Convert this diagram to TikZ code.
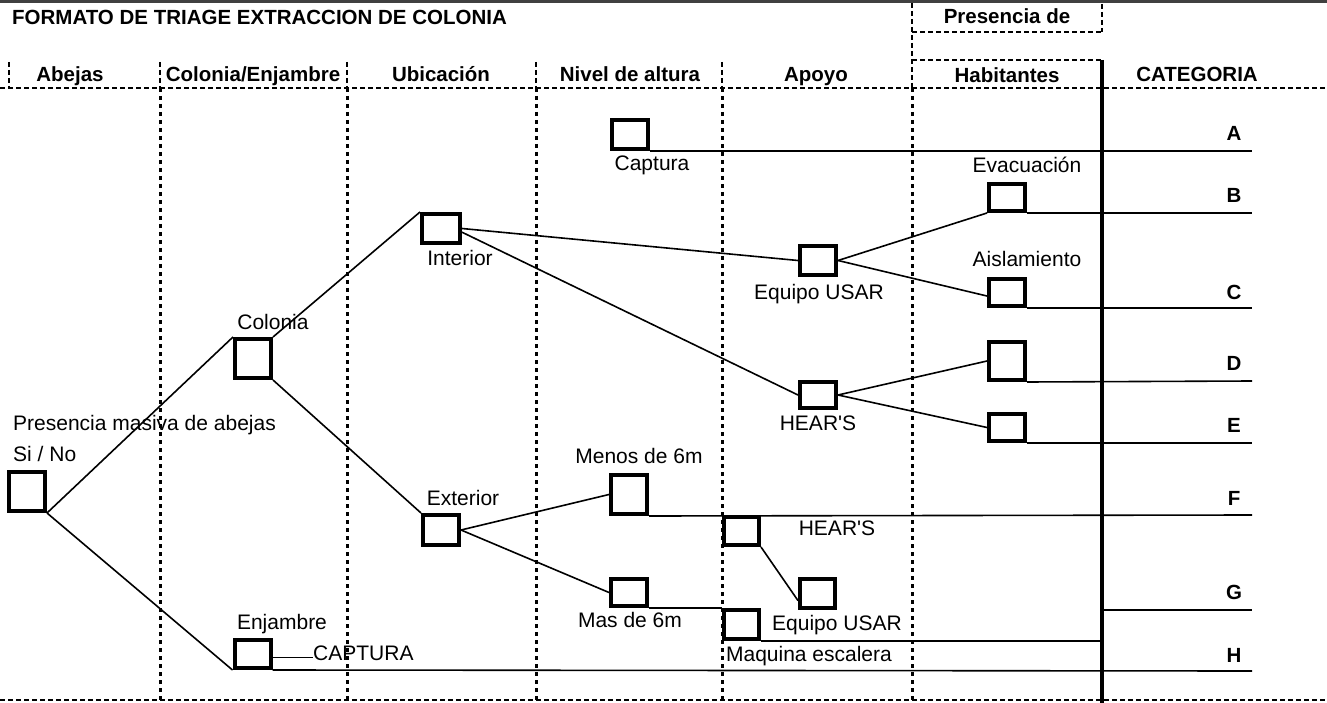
\documentclass[tikz,border=0pt]{standalone}
\usepackage{fontspec}
\setmainfont{Liberation Sans}[Ligatures=TeXOff]
\usetikzlibrary{calc}
\begin{document}
\begin{tikzpicture}[x=1pt,y=-1pt,
  bx/.style={draw, line width=4pt, inner sep=0pt, minimum width=36pt, minimum height=#1},
  bx/.default=29pt,
  ln/.style={line width=1.6pt},
  thick line/.style={line width=4pt},
  hdash/.style={line width=2pt, dash pattern=on 5pt off 3pt},
  vdot/.style={line width=3pt, dash pattern=on 4pt off 4pt},
  txt/.style={inner sep=0pt, font=\fontsize{21}{25}\selectfont, text height=15pt, text depth=0pt},
  hdr/.style={inner sep=0pt, font=\fontsize{20.5}{24}\selectfont\bfseries, text height=14.7pt, text depth=0pt},
  cat/.style={hdr}
]
\useasboundingbox (0,0) rectangle (1327,703);

% frame lines
\coordinate (tl) at (0,1.5);
\coordinate (tr) at (1327,1.5);
\draw[line width=3pt, black!75] (tl) -- (tr);
\coordinate (hl) at (0,88);
\coordinate (hr) at (1327,88);
\draw[hdash] (hl) -- (hr);
\coordinate (bl) at (0,700);
\coordinate (br) at (1327,700);
\draw[hdash, line width=2.5pt] (bl) -- (br);

% Presencia de box
\coordinate (p1) at (912,3);
\coordinate (p2) at (912,88);
\coordinate (p3) at (1102,4);
\coordinate (p4) at (1102,32);
\coordinate (p5) at (912,32);
\coordinate (p6) at (912,60);
\coordinate (p7) at (1102,60);
\draw[hdash] (p1) -- (p2);
\draw[hdash] (p3) -- (p4);
\draw[hdash] (p5) -- (p4);
\draw[hdash] (p6) -- (p7);
\coordinate (tb) at (1102,703);
\draw[thick line] (p7) -- (tb);

% header verticals
\foreach \xx in {9,160,347,536,722} {
  \draw[hdash] (\xx,62) -- (\xx,88);
}
% body verticals
\foreach \xx in {160,347,536,722,912} {
  \draw[vdot] (\xx,88) -- (\xx,700);
}

% titles
\node[hdr, anchor=west] (title) at (12,17) {FORMATO DE TRIAGE EXTRACCION DE COLONIA};
\node[hdr] (pres) at (1007,16) {Presencia de};
\node[hdr] (h1) at (70,74) {Abejas};
\node[hdr] (h2) at (253,74) {Colonia/Enjambre};
\node[hdr] (h3) at (441,74) {Ubicación};
\node[hdr] (h4) at (630,74) {Nivel de altura};
\node[hdr] (h5) at (816,74) {Apoyo};
\node[hdr] (h6) at (1007,75) {Habitantes};
\node[hdr] (h7) at (1197,74) {CATEGORIA};

% boxes
\node[bx=39pt] (root) at (27,491.5) {};
\node[bx=39pt] (col) at (253,358.5) {};
\node[bx=28pt] (enj) at (252.5,654) {};
\node[bx=29pt, minimum width=38pt] (int) at (441,228.5) {};
\node[bx=30pt] (ext) at (441,530) {};
\node[bx=29pt] (cap) at (630,134.5) {};
\node[bx=39pt] (men) at (629,494.5) {};
\node[bx=27pt] (mas) at (629,592.5) {};
\node[bx=29pt] (equ) at (818,260.5) {};
\node[bx=26pt] (heu) at (818,395) {};
\node[bx=27pt] (evac) at (1007,197.5) {};
\node[bx=27pt] (aisl) at (1007,292.5) {};
\node[bx=38pt] (dbx) at (1007,361) {};
\node[bx=27pt] (ebx) at (1007,427.5) {};
\node[bx=28pt, minimum width=35pt] (hel) at (741.5,531) {};
\node[bx=29pt, minimum width=35pt] (eql) at (817.5,593.5) {};
\node[bx=29pt, minimum width=35pt] (maq) at (741.5,624.5) {};

% labels
\node[txt, anchor=west] (t1) at (13,423) {Presencia masiva de abejas};
\node[txt, anchor=west] (t2) at (13,454) {Si / No};
\node[txt] (t3) at (273,322) {Colonia};
\node[txt] (t4) at (282,622) {Enjambre};
\node[txt, anchor=west] (capt) at (313,653) {CAPTURA};
\node[txt] (t6) at (460,258) {Interior};
\node[txt] (t7) at (463,498) {Exterior};
\node[txt] (t8) at (652,163) {Captura};
\node[txt] (t9) at (639,456) {Menos de 6m};
\node[txt] (t10) at (630,620) {Mas de 6m};
\node[txt] (t11) at (819,292) {Equipo USAR};
\node[txt] (t12) at (818,423) {HEAR'S};
\node[txt] (t13) at (1027,165) {Evacuación};
\node[txt] (t14) at (1027,259) {Aislamiento};
\node[txt] (t15) at (837,528) {HEAR'S};
\node[txt] (t16) at (837,623) {Equipo USAR};
\node[txt] (t17) at (809,654) {Maquina escalera};

% category letters
\node[cat] (cA) at (1234,133) {A};
\node[cat] (cB) at (1234,195) {B};
\node[cat] (cC) at (1234,292) {C};
\node[cat] (cD) at (1234,363) {D};
\node[cat] (cE) at (1234,425) {E};
\node[cat] (cF) at (1234,498) {F};
\node[cat] (cG) at (1234,592) {G};
\node[cat] (cH) at (1234,655) {H};

% line ends
\coordinate (eA) at (1252,151);
\coordinate (eB) at (1252,213);
\coordinate (eC) at (1252,308);
\coordinate (eD) at (1252,381);
\coordinate (eE) at (1252,443);
\coordinate (eF) at (1252,515);
\coordinate (gS) at (1102,610);
\coordinate (eG) at (1252,610);
\coordinate (eH) at (1252,671);
\coordinate (mq) at (1102,641);

% connectors
\draw[ln] (root.south east) -- (col.north west);
\draw[ln] (root.south east) -- (enj.south west);
\draw[ln] (col.north east) -- (int.north west);
\draw[ln] (col.south east) -- (ext.north west);
\draw[ln] (int.east) -- (equ.west);
\draw[ln] (int.-10) -- (heu.west);
\draw[ln] (equ.east) -- (evac.south west);
\draw[ln] (equ.east) -- (aisl.190);
\draw[ln] (heu.east) -- (dbx.west);
\draw[ln] (heu.east) -- (ebx.west);
\draw[ln] (ext.east) -- (men.west);
\draw[ln] (ext.east) -- (mas.west);
\draw[ln] (hel.south east) -- (eql.200);
\draw[ln] (mas.south east) -- (maq.north west);
\draw[ln] (enj.-10) -- (enj.-10 -| capt.west);

\draw[ln] (cap.south east) -- (eA);
\draw[ln] (evac.south east) -- (eB);
\draw[ln] (aisl.south east) -- (eC);
\draw[ln] (dbx.south east) -- (eD);
\draw[ln] (ebx.south east) -- (eE);
\draw[ln] (men.south east) -- (eF);
\draw[ln] (gS) -- (eG);
\draw[ln] (enj.south east) -- (eH);
\draw[ln] (maq.south east) -- (mq);
\end{tikzpicture}
\end{document}
